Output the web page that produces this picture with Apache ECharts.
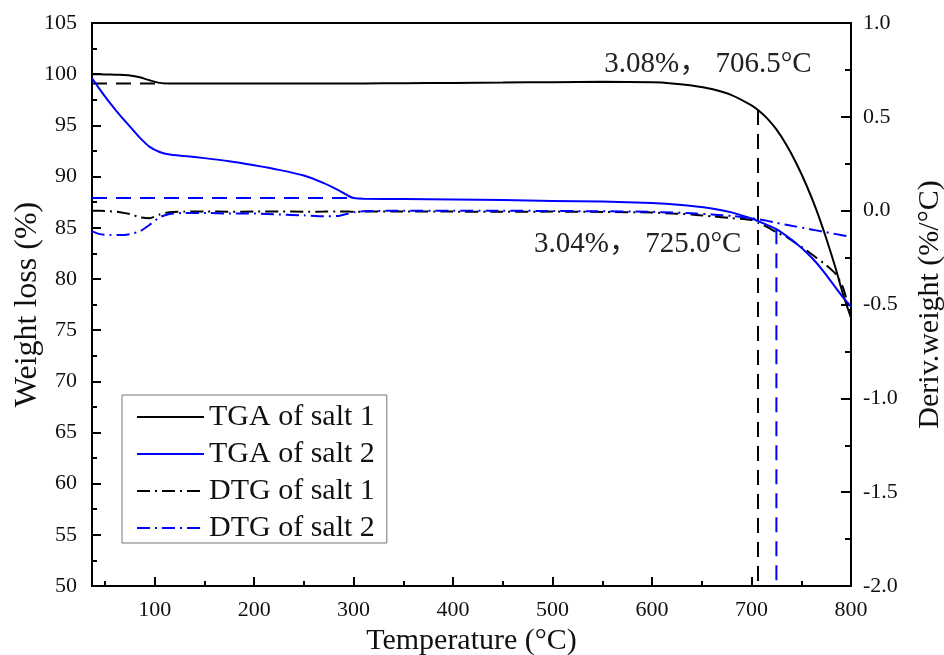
<!DOCTYPE html>
<html>
<head>
<meta charset="utf-8">
<script src="https://cdn.jsdelivr.net/npm/echarts@6/dist/echarts.min.js"></script>
<style>
  html, body { margin: 0; padding: 0; background: #fff; }
  #chart { width: 944px; height: 655px; }
</style>
</head>
<body>
<div id="chart"></div>
<script>
// Temperature grid (°C) shared by all four curves
const temperature = [37, 45, 55, 65, 75, 85, 95, 105, 115, 130, 150, 175, 200, 225, 250, 270, 285, 295, 300, 310,
  350, 400, 450, 500, 550, 600, 620, 640, 660, 680, 700, 706.5, 715, 725, 735, 745, 755, 765, 775, 785, 792, 800];

// TGA, weight remaining (%)
const tgaSalt1 = [100.0, 99.99, 99.97, 99.94, 99.88, 99.7, 99.4, 99.15, 99.1, 99.1, 99.1, 99.1, 99.1, 99.1, 99.1, 99.1, 99.1, 99.1, 99.1, 99.1,
  99.12, 99.15, 99.18, 99.22, 99.25, 99.2, 99.1, 98.9, 98.55, 97.95, 96.95, 96.5, 95.75, 94.6, 93.1, 91.3, 89.2, 86.8, 84.0, 80.9, 78.5, 76.2];
const tgaSalt2 = [99.6, 98.5, 97.2, 96.0, 94.9, 93.8, 92.9, 92.4, 92.15, 92.0, 91.8, 91.5, 91.1, 90.65, 90.1, 89.35, 88.65, 88.1, 87.9, 87.82,
  87.8, 87.75, 87.7, 87.62, 87.55, 87.42, 87.3, 87.12, 86.88, 86.5, 85.9, 85.65, 85.3, 84.86, 84.2, 83.45, 82.6, 81.6, 80.4, 79.1, 78.2, 77.3];

// DTG, derivative weight (%/°C)
const dtgSalt1 = [0.0, 0.0, -0.003, -0.008, -0.018, -0.035, -0.04, -0.02, -0.008, -0.005, -0.004, -0.006, -0.005, -0.004, -0.006, -0.005, -0.004, -0.005, -0.006, -0.005,
  -0.004, -0.005, -0.006, -0.005, -0.007, -0.01, -0.015, -0.02, -0.03, -0.04, -0.05, -0.065, -0.085, -0.115, -0.14, -0.175, -0.21, -0.25, -0.29, -0.34, -0.41, -0.56];
const dtgSalt2 = [-0.11, -0.125, -0.13, -0.13, -0.125, -0.11, -0.075, -0.035, -0.018, -0.012, -0.012, -0.015, -0.015, -0.02, -0.025, -0.03, -0.028, -0.015, -0.008, -0.003,
  0.0, 0.0, 0.0, -0.002, -0.003, -0.006, -0.01, -0.014, -0.02, -0.028, -0.04, -0.045, -0.053, -0.065, -0.075, -0.085, -0.095, -0.105, -0.115, -0.125, -0.132, -0.14];

// Axis ticks
const xMajorTicks = [100, 200, 300, 400, 500, 600, 700, 800];
const xMinorTicks = [50, 150, 250, 350, 450, 550, 650, 750];

// Onset markers: plateau level, where the plateau guide ends, onset temperature and mass loss
const onsetSalt1 = { plateau: 99.1, guideEnd: 110, temp: 706.5, loss: '3.08%' };
const onsetSalt2 = { plateau: 87.9, guideEnd: 300, temp: 725.0, loss: '3.04%' };

const seriesNames = ['TGA of salt 1', 'TGA of salt 2', 'DTG of salt 1', 'DTG of salt 2'];

const pairs = (ys) => temperature.map((t, i) => [t, ys[i]]);
const valueAt = (ys, t) => ys[temperature.indexOf(t)];

const FONT = "'Liberation Serif', 'Times New Roman', 'Noto Sans CJK SC', serif";
const BLUE = '#0000ff';
const BLACK = '#000000';
const dashDot = [13, 5, 2, 5];
const dashed = [15, 9];

function guideSeries(color, onset, ys) {
  const top = valueAt(ys, onset.temp);
  return [
    {
      type: 'line', xAxisIndex: 0, yAxisIndex: 0, symbol: 'none', silent: true, z: 1,
      lineStyle: { color: color, width: 2, type: dashed },
      data: [[temperature[0], onset.plateau], [onset.guideEnd, onset.plateau]]
    },
    {
      type: 'line', xAxisIndex: 0, yAxisIndex: 0, symbol: 'none', silent: true, z: 1,
      lineStyle: { color: color, width: 2, type: dashed },
      data: [[onset.temp, top], [onset.temp, 50]]
    }
  ];
}

const chart = echarts.init(document.getElementById('chart'), null, { renderer: 'canvas' });

const axisLineStyle = { show: true, onZero: false, lineStyle: { color: BLACK, width: 2 } };
const curveSmooth = 0.2;

const option = {
  backgroundColor: '#fff',
  animation: false,
  textStyle: { fontFamily: FONT, color: BLACK },
  grid: {
    left: 92, right: 93, top: 23, bottom: 69,
    outerBoundsMode: 'none', containLabel: false,
    show: true, borderColor: BLACK, borderWidth: 2, backgroundColor: 'transparent'
  },
  legend: {
    orient: 'vertical', left: 122, top: 395,
    itemWidth: 67, itemHeight: 14, itemGap: 7,
    padding: [7, 12, 0, 14],
    borderColor: '#777', borderWidth: 1, backgroundColor: '#fff',
    itemStyle: { opacity: 0 },
    textStyle: { fontFamily: FONT, fontSize: 30, lineHeight: 30, color: '#111' },
    data: seriesNames
  },
  xAxis: [
    {
      type: 'value', min: 37, max: 800, position: 'bottom',
      name: 'Temperature (°C)', nameLocation: 'middle', nameGap: 40, nameMoveOverlap: false,
      nameTextStyle: { fontFamily: FONT, fontSize: 30, color: '#111' },
      axisLine: axisLineStyle,
      axisTick: { show: true, inside: true, length: 9, lineStyle: { color: BLACK, width: 2 }, customValues: xMajorTicks },
      axisLabel: { show: true, margin: 13, fontFamily: FONT, fontSize: 22, color: '#111', customValues: xMajorTicks },
      splitLine: { show: false }
    },
    {
      type: 'value', min: 37, max: 800, position: 'bottom',
      axisLine: { show: false, onZero: false },
      axisTick: { show: true, inside: true, length: 5, lineStyle: { color: BLACK, width: 2 }, customValues: xMinorTicks },
      axisLabel: { show: false },
      splitLine: { show: false }
    }
  ],
  yAxis: [
    {
      type: 'value', min: 50, max: 105, interval: 5, position: 'left',
      name: 'Weight loss (%)', nameLocation: 'middle', nameGap: 48, nameRotate: 90, nameMoveOverlap: false,
      nameTextStyle: { fontFamily: FONT, fontSize: 32, color: '#111' },
      axisLine: axisLineStyle,
      axisTick: { show: true, inside: true, length: 9, lineStyle: { color: BLACK, width: 2 } },
      minorTick: { show: true, splitNumber: 2, length: 5, lineStyle: { color: BLACK, width: 2 } },
      axisLabel: { margin: 15, fontFamily: FONT, fontSize: 22, color: '#111' },
      splitLine: { show: false }
    },
    {
      type: 'value', min: -2, max: 1, interval: 0.5, position: 'right',
      name: 'Deriv.weight (%/°C)', nameLocation: 'middle', nameGap: 64, nameRotate: 90, nameMoveOverlap: false,
      nameTextStyle: { fontFamily: FONT, fontSize: 30, color: '#111' },
      axisLine: axisLineStyle,
      axisTick: { show: true, inside: true, length: 10, lineStyle: { color: BLACK, width: 2 } },
      minorTick: { show: true, splitNumber: 2, length: 6, lineStyle: { color: BLACK, width: 2 } },
      axisLabel: { margin: 12, fontFamily: FONT, fontSize: 22, color: '#111', formatter: (v) => v.toFixed(1) },
      splitLine: { show: false }
    }
  ],
  series: [
    ...guideSeries(BLACK, onsetSalt1, tgaSalt1),
    ...guideSeries(BLUE, onsetSalt2, tgaSalt2),
    {
      name: seriesNames[2], type: 'line', xAxisIndex: 0, yAxisIndex: 1, symbol: 'none', z: 2, smooth: curveSmooth,
      lineStyle: { color: BLACK, width: 2, type: dashDot }, itemStyle: { color: BLACK },
      data: pairs(dtgSalt1)
    },
    {
      name: seriesNames[3], type: 'line', xAxisIndex: 0, yAxisIndex: 1, symbol: 'none', z: 2, smooth: curveSmooth,
      lineStyle: { color: BLUE, width: 2, type: dashDot }, itemStyle: { color: BLUE },
      data: pairs(dtgSalt2)
    },
    {
      name: seriesNames[0], type: 'line', xAxisIndex: 0, yAxisIndex: 0, symbol: 'none', z: 3, smooth: curveSmooth,
      lineStyle: { color: BLACK, width: 2 }, itemStyle: { color: BLACK },
      data: pairs(tgaSalt1)
    },
    {
      name: seriesNames[1], type: 'line', xAxisIndex: 0, yAxisIndex: 0, symbol: 'none', z: 3, smooth: curveSmooth,
      lineStyle: { color: BLUE, width: 2 }, itemStyle: { color: BLUE },
      data: pairs(tgaSalt2)
    }
  ]
};

chart.setOption(option);

// Onset annotations, anchored to the top of each vertical guide
const anchor1 = chart.convertToPixel({ xAxisIndex: 0, yAxisIndex: 0 }, [onsetSalt1.temp, valueAt(tgaSalt1, onsetSalt1.temp)]);
const anchor2 = chart.convertToPixel({ xAxisIndex: 0, yAxisIndex: 0 }, [onsetSalt2.temp, valueAt(tgaSalt2, onsetSalt2.temp)]);

chart.setOption({
  graphic: [
    {
      type: 'text', x: anchor1[0] - 50, y: anchor1[1] - 46, z: 10,
      style: {
        text: onsetSalt1.loss + '， ' + onsetSalt1.temp.toFixed(1) + '°C',
        fontFamily: FONT, fontSize: 29, fill: '#222', align: 'center', verticalAlign: 'middle'
      }
    },
    {
      type: 'text', x: anchor2[0] - 35, y: anchor2[1] + 15, z: 10,
      style: {
        text: onsetSalt2.loss + '， ' + onsetSalt2.temp.toFixed(1) + '°C',
        fontFamily: FONT, fontSize: 29, fill: '#222', align: 'right', verticalAlign: 'middle'
      }
    }
  ]
});
</script>
</body>
</html>
